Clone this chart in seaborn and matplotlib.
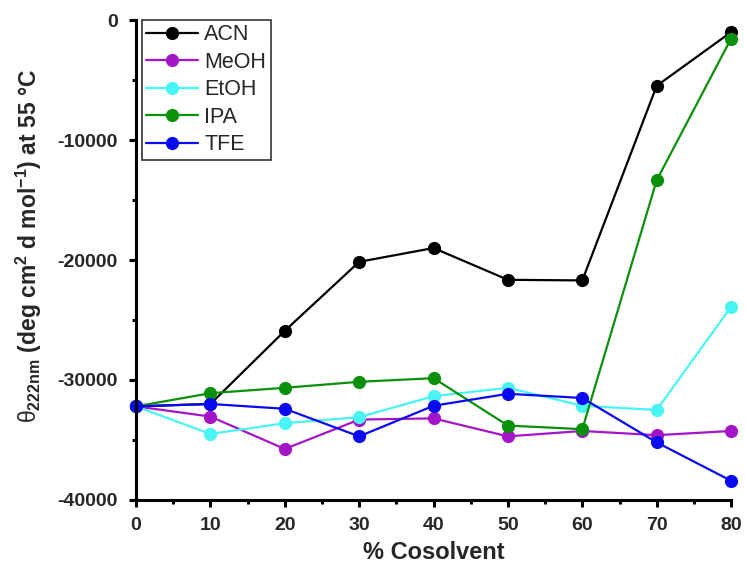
import matplotlib
matplotlib.use("Agg")
import matplotlib.pyplot as plt
from matplotlib.ticker import MultipleLocator
import numpy as np
import pandas as pd
import seaborn as sns

# % cosolvent (v/v)
cosolvent = [0, 10, 20, 30, 40, 50, 60, 70, 80]

# Mean residue ellipticity at 222 nm, 55 °C
acn = [-32200, -32000, -25900, -20150, -19000, -21650, -21700, -5480, -1000]
meoh = [-32200, -33050, -35750, -33300, -33200, -34700, -34250, -34600, -34250]
etoh = [-32200, -34500, -33600, -33100, -31350, -30650, -32150, -32500, -23900]
ipa = [-32200, -31100, -30650, -30150, -29850, -33800, -34100, -13350, -1550]
tfe = [-32200, -32000, -32400, -34700, -32150, -31150, -31500, -35200, -38400]

solvents = ["ACN", "MeOH", "EtOH", "IPA", "TFE"]
colors = ["#000000", "#A515C8", "#48F4F4", "#0A900A", "#0A0AF0"]

series = dict(zip(solvents, [acn, meoh, etoh, ipa, tfe]))
df = pd.DataFrame(
    [(x, name, v) for name, vals in series.items() for x, v in zip(cosolvent, vals)],
    columns=["cosolvent", "solvent", "theta"],
)

sns.set_theme(style="ticks")
plt.rcParams["font.family"] = ["Liberation Sans", "DejaVu Sans"]
plt.rcParams["axes.unicode_minus"] = False
plt.rcParams["mathtext.fontset"] = "custom"
plt.rcParams["mathtext.rm"] = "Liberation Sans:bold"
plt.rcParams["mathtext.it"] = "Liberation Sans:italic"
plt.rcParams["mathtext.bf"] = "Liberation Sans:bold"
plt.rcParams["mathtext.sf"] = "Liberation Sans"

fig = plt.figure(figsize=(7.45, 5.74), dpi=100)
ax = fig.add_axes([0.1826, 0.129, 0.7987, 0.836])

sns.lineplot(
    data=df, x="cosolvent", y="theta", hue="solvent",
    hue_order=solvents, palette=colors, marker="o",
    markersize=9.5, markeredgewidth=0, linewidth=1.6,
    ax=ax, clip_on=False,
)

ax.set_xlim(0, 80)
ax.set_ylim(-40000, 0)
ax.xaxis.set_major_locator(MultipleLocator(10))
ax.xaxis.set_minor_locator(MultipleLocator(5))
ax.yaxis.set_major_locator(MultipleLocator(10000))
ax.yaxis.set_minor_locator(MultipleLocator(5000))

sns.despine(ax=ax)
for side in ("left", "bottom"):
    ax.spines[side].set_linewidth(2.2)
    ax.spines[side].set_color("black")
ax.tick_params(which="major", direction="out", length=5, width=2.2,
               color="black", labelsize=14)
ax.tick_params(axis="x", which="major", pad=7)
ax.tick_params(axis="y", which="major", pad=8)
ax.tick_params(which="minor", direction="out", length=3, width=2.2, color="black")
for lab in ax.get_xticklabels() + ax.get_yticklabels():
    lab.set_fontweight("bold")

ax.set_xlabel("% Cosolvent", fontsize=17, fontweight="bold", labelpad=5)
ax.set_ylabel(
    r"$\mathsf{θ}_{\mathbf{222nm}}$ (deg cm$^{\mathbf{2}}$ d mol$^{\mathbf{-1}}$) at 55 °C",
    fontsize=16.5, fontweight="bold",
)
ax.yaxis.set_label_coords(-0.155, 0.53)

leg = ax.legend(
    loc="upper left", bbox_to_anchor=(0.01, 1.0), borderaxespad=0,
    fontsize=15.5, frameon=True, fancybox=False, edgecolor="black",
    handlelength=2.4, handletextpad=0.3, labelspacing=0.3,
    borderpad=0.2, title=None,
)
leg.get_frame().set_linewidth(1.2)

fig.savefig("out.png", dpi=100, facecolor="white")
